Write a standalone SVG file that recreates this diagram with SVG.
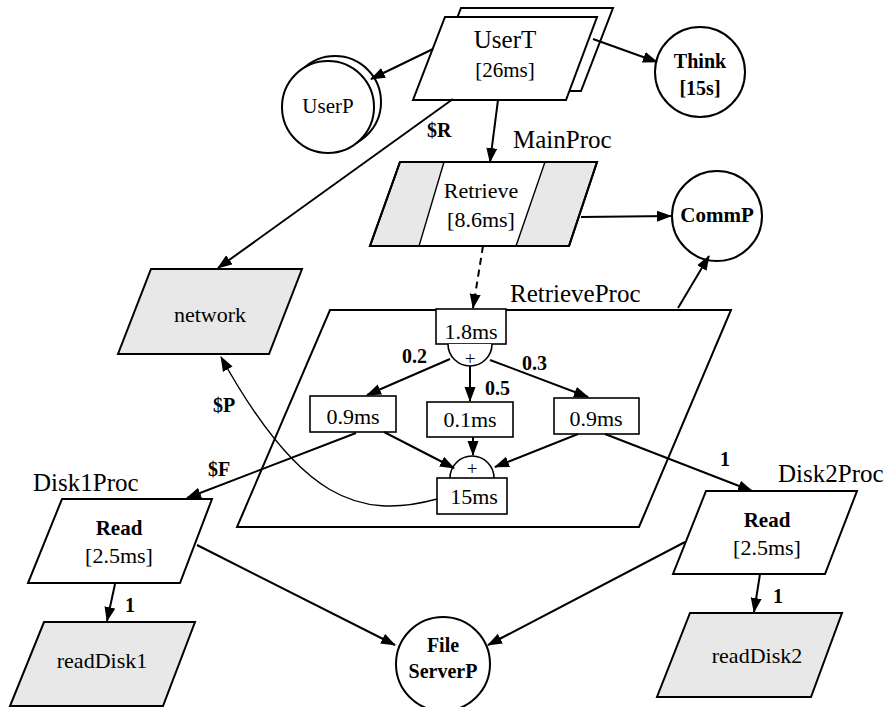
<svg xmlns="http://www.w3.org/2000/svg" width="889" height="707" viewBox="0 0 889 707">
<defs>
<marker id="ah" markerUnits="userSpaceOnUse" markerWidth="16" markerHeight="12" refX="14" refY="5.5" orient="auto">
<path d="M0,0 L15,5.5 L0,11 z" fill="#000"/>
</marker>
</defs>
<style>
text{font-family:"Liberation Serif","Times New Roman",serif;fill:#000}
.c{text-anchor:middle}
.b{font-weight:bold}
.shape{stroke:#000;stroke-width:2;fill:#fff}
.grey{fill:#e8e8e8}
.box{stroke:#000;stroke-width:1.6;fill:#fff}
.edge{stroke:#000;stroke-width:2;fill:none;marker-end:url(#ah)}
.thin{stroke:#000;stroke-width:1.4;fill:none;marker-end:url(#ah)}
.lbl{font-size:20px;font-weight:bold}
.title{font-size:25px}
</style>
<rect width="889" height="707" fill="#fff"/>

<g id="RetrieveProc">
<path class="shape" d="M330,310 L731,310 L639,527 L237,527 Z" fill="none" style="fill:none"/>
<text class="title" x="510" y="302">RetrieveProc</text>
</g>

<g id="UserT">
<path class="shape" d="M461,8 L613,8 L581,91 L429,91 Z"/>
<path class="shape" d="M445,17 L597,17 L566,100 L413,100 Z"/>
<text class="c" x="505" y="48" font-size="25">UserT</text>
<text class="c" x="505" y="77" font-size="21">[26ms]</text>
</g>

<g id="UserP">
<circle class="shape" cx="335" cy="102" r="46"/>
<circle class="shape" cx="328" cy="107" r="46"/>
<text class="c" x="328" y="113" font-size="21">UserP</text>
</g>

<g id="Think">
<circle class="shape" cx="700" cy="72" r="45"/>
<text class="c b" x="700" y="68" font-size="20">Think</text>
<text class="c b" x="700" y="95" font-size="20">[15s]</text>
</g>

<g id="MainProc">
<path class="shape grey" d="M400,162 L597,162 L569,246 L370,246 Z"/>
<path d="M444,162 L545,162 L516,246 L419,246 Z" fill="#fff" stroke="#000" stroke-width="1.4"/>
<path class="shape" d="M400,162 L597,162 L569,246 L370,246 Z" style="fill:none"/>
<text class="title" x="513" y="148">MainProc</text>
<text class="c" x="481" y="198" font-size="22">Retrieve</text>
<text class="c" x="481" y="227" font-size="22">[8.6ms]</text>
</g>

<g id="CommP">
<circle class="shape" cx="717" cy="216" r="45"/>
<text class="c b" x="717" y="222" font-size="21">CommP</text>
</g>

<g id="network">
<path class="shape grey" d="M151,269 L302,269 L269,354 L118,354 Z"/>
<text class="c" x="210" y="322" font-size="22">network</text>
</g>

<g id="split">
<rect class="box" x="436" y="309" width="70" height="35"/>
<text class="c" x="471" y="339" font-size="22">1.8ms</text>
<path class="box" d="M448,344 A22,22 0 0 0 492,344"/>
<text class="c" x="470" y="365" font-size="19">+</text>
</g>

<g id="b1">
<rect class="box" x="310" y="396" width="86" height="36"/>
<text class="c" x="353" y="424" font-size="22">0.9ms</text>
</g>
<g id="b2">
<rect class="box" x="427" y="402" width="86" height="35"/>
<text class="c" x="470" y="427" font-size="22">0.1ms</text>
</g>
<g id="b3">
<rect class="box" x="554" y="398" width="85" height="36"/>
<text class="c" x="596" y="426" font-size="22">0.9ms</text>
</g>

<g id="join">
<path class="box" d="M450,478 A22,22 0 0 1 494,478"/>
<text class="c" x="472" y="475" font-size="19">+</text>
<rect class="box" x="437" y="478" width="70" height="36"/>
<text class="c" x="474" y="504" font-size="22">15ms</text>
</g>

<g id="Disk1Proc">
<path class="shape" d="M62,499 L212,499 L180,583 L28,583 Z"/>
<text class="title" x="33" y="491">Disk1Proc</text>
<text class="c b" x="119" y="535" font-size="21">Read</text>
<text class="c" x="119" y="563" font-size="22">[2.5ms]</text>
</g>

<g id="readDisk1">
<path class="shape grey" d="M44,622 L195,622 L163,706 L10,706 Z"/>
<text class="c" x="102" y="668" font-size="22">readDisk1</text>
</g>

<g id="FileServerP">
<circle class="shape" cx="443" cy="664" r="47"/>
<text class="c b" x="443" y="652" font-size="20">File</text>
<text class="c b" x="443" y="678" font-size="20">ServerP</text>
</g>

<g id="Disk2Proc">
<path class="shape" d="M706,491 L857,491 L825,574 L673,574 Z"/>
<text class="title" x="778" y="482">Disk2Proc</text>
<text class="c b" x="767" y="527" font-size="21">Read</text>
<text class="c" x="767" y="555" font-size="22">[2.5ms]</text>
</g>

<g id="readDisk2">
<path class="shape grey" d="M690,613 L842,613 L811,697 L657,697 Z"/>
<text class="c" x="757" y="663" font-size="22">readDisk2</text>
</g>

<g id="connectors">
<line class="edge" x1="433" y1="49" x2="371" y2="79"/>
<line class="edge" x1="593" y1="39" x2="657" y2="62"/>
<line class="edge" x1="498" y1="100" x2="490" y2="162"/>
<line class="edge" x1="453" y1="99" x2="218" y2="268"/>
<line class="edge" x1="581" y1="217" x2="671" y2="216"/>
<line class="edge" x1="678" y1="308" x2="709" y2="256"/>
<line class="edge" x1="483" y1="246" x2="473" y2="308" stroke-dasharray="7,5"/>
<line class="edge" x1="450" y1="359" x2="367" y2="395"/>
<line class="edge" x1="470" y1="366" x2="470" y2="401"/>
<line class="edge" x1="490" y1="360" x2="588" y2="397"/>
<line class="edge" x1="384" y1="432" x2="454" y2="468"/>
<line class="edge" x1="473" y1="437" x2="473" y2="455"/>
<line class="edge" x1="578" y1="434" x2="495" y2="467"/>
<line class="edge" x1="356" y1="433" x2="187" y2="498"/>
<line class="edge" x1="605" y1="434" x2="752" y2="491"/>
<path class="thin" d="M437,499 C360,520 300,500 221,357"/>
<line class="edge" x1="115" y1="584" x2="107" y2="621"/>
<line class="edge" x1="197" y1="545" x2="395" y2="645"/>
<line class="edge" x1="685" y1="542" x2="488" y2="645"/>
<line class="edge" x1="760" y1="574" x2="754" y2="612"/>
<text class="lbl" x="427" y="137">$R</text>
<text class="lbl" x="213" y="412">$P</text>
<text class="lbl" x="208" y="476">$F</text>
<text class="lbl" x="402" y="363">0.2</text>
<text class="lbl" x="485" y="395">0.5</text>
<text class="lbl" x="522" y="370">0.3</text>
<text class="lbl" x="720" y="466">1</text>
<text class="lbl" x="125" y="612">1</text>
<text class="lbl" x="773" y="603">1</text>
</g>
</svg>
